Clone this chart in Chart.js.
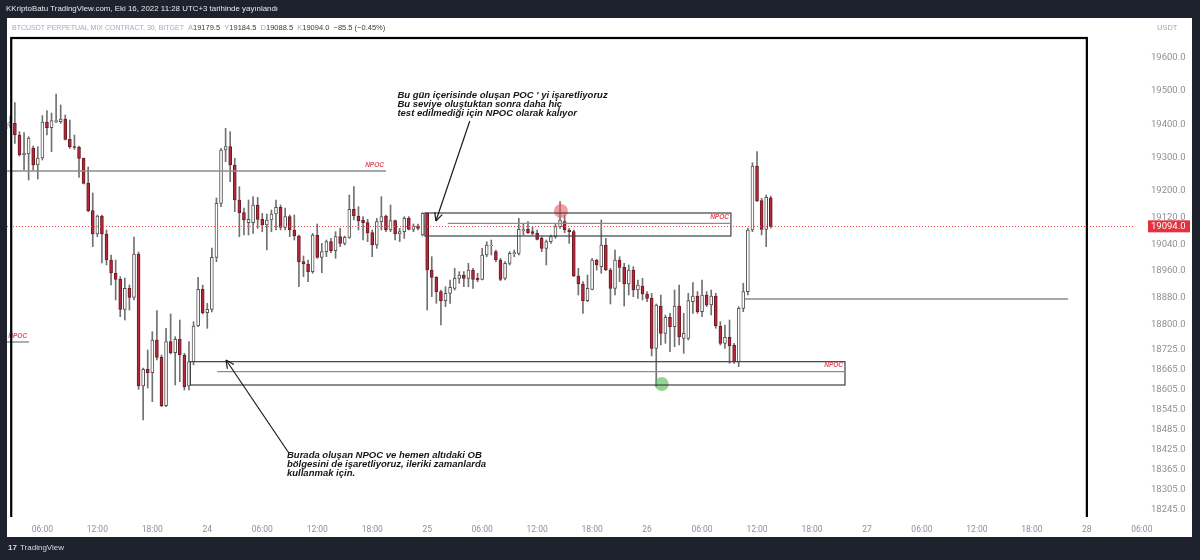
<!DOCTYPE html>
<html>
<head>
<meta charset="utf-8">
<title>BTCUSDT 30 - NPOC</title>
<script src="https://cdn.jsdelivr.net/npm/chart.js"></script>
<style>
  html, body { margin: 0; padding: 0; background: #1e222d; }
  #wrap { width: 1200px; height: 560px; position: relative; }
</style>
</head>
<body>
<div id="wrap"><canvas id="btcChart"></canvas></div>
<script>
// 30 minute candles, x = candle index counted in half hours from Oct 23 00:00
var firstCandle = 4;

var opens = [
  19386, 19395, 19403, 19368, 19308, 19311, 19329, 19278, 19299, 19407, 19390, 19408,
  19408, 19416, 19355, 19333, 19331, 19298, 19223, 19141, 19071, 19125, 19071, 18993,
  18953, 18935, 18845, 18908, 18881, 19011, 18615, 18665, 18655, 18753, 18701, 18556,
  18748, 18715, 18755, 18708, 18615, 18688, 18795, 18905, 18835, 18845, 19001, 19163,
  19323, 19333, 19278, 19173, 19135, 19105, 19105, 19158, 19115, 19098, 19113, 19131,
  19151, 19091, 19123, 19083, 19065, 18988, 18981, 18958, 19068, 19001, 19018, 19048,
  19021, 19063, 19043, 19061, 19145, 19125, 19113, 19105, 19075, 19038, 19108, 19125,
  19083, 19111, 19071, 19078, 19118, 19085, 19095, 19068, 19133, 18963, 18941, 18898,
  18871, 18893, 18908, 18938, 18948, 18938, 18963, 18938, 18935, 19008, 19036, 19018,
  18993, 18938, 18983, 19011, 19013, 19081, 19085, 19078, 19073, 19058, 19028, 19048,
  19063, 19093, 19108, 19083, 19078, 18945, 18921, 18871, 18905, 18993, 18973, 19038,
  18963, 18908, 18993, 18971, 18921, 18963, 18903, 18915, 18891, 18878, 18728, 18855,
  18773, 18821, 18793, 18855, 18758, 18758, 18868, 18885, 18838, 18888, 18858, 18885,
  18795, 18743, 18761, 18738, 18688, 18848, 18898, 19083, 19275, 19171, 19085, 19179.5
];
var highs = [
  19419, 19425, 19465, 19378, 19375, 19363, 19335, 19333, 19426, 19441, 19434, 19491,
  19458, 19428, 19413, 19368, 19335, 19299, 19272, 19194, 19128, 19128, 19083, 19008,
  18993, 18943, 18939, 18918, 19062, 19017, 18669, 18723, 18778, 18841, 18708, 18788,
  18831, 18763, 18813, 18713, 18748, 18808, 18941, 18918, 18863, 19029, 19179, 19328,
  19388, 19378, 19298, 19213, 19149, 19173, 19183, 19181, 19133, 19131, 19143, 19173,
  19158, 19149, 19128, 19128, 19068, 19005, 18993, 19073, 19101, 19043, 19053, 19058,
  19078, 19088, 19065, 19188, 19213, 19153, 19123, 19115, 19083, 19118, 19183, 19128,
  19158, 19113, 19088, 19123, 19123, 19101, 19101, 19135, 19135, 19003, 18943, 18903,
  18913, 18933, 18968, 18958, 18958, 18983, 18968, 18953, 19028, 19048, 19053, 19023,
  18998, 18988, 19018, 19023, 19118, 19103, 19108, 19091, 19083, 19063, 19053, 19068,
  19103, 19168, 19128, 19088, 19083, 18968, 18928, 18948, 18998, 18995, 19113, 19058,
  18968, 19023, 19003, 18983, 18978, 18973, 18933, 18938, 18898, 18893, 18861, 18888,
  18828, 18833, 18903, 18918, 18833, 18893, 18925, 18898, 18933, 18898, 18903, 18893,
  18808, 18798, 18813, 18743, 18853, 18923, 19088, 19285, 19318, 19178, 19188, 19184.5
];
var lows = [
  19380, 19389, 19343, 19305, 19263, 19233, 19263, 19236, 19293, 19368, 19318, 19405,
  19403, 19353, 19328, 19325, 19241, 19221, 19138, 19033, 19063, 18984, 18978, 18918,
  18873, 18823, 18813, 18843, 18873, 18605, 18513, 18609, 18568, 18693, 18553, 18553,
  18711, 18618, 18628, 18603, 18603, 18678, 18793, 18831, 18788, 18837, 18988, 19153,
  19288, 19228, 19138, 19063, 19068, 19068, 19073, 19088, 19078, 19023, 19078, 19083,
  19083, 19083, 19063, 19053, 18913, 18943, 18928, 18953, 18998, 18955, 19003, 19015,
  18998, 19033, 19038, 19058, 19113, 19083, 19053, 19048, 19003, 19028, 19083, 19078,
  19078, 19053, 19048, 19058, 19083, 19078, 19083, 19065, 18843, 18883, 18863, 18798,
  18853, 18863, 18903, 18923, 18913, 18913, 18908, 18928, 18933, 19003, 19008, 18988,
  18931, 18933, 18978, 19003, 19008, 19068, 19073, 19068, 19053, 19018, 18978, 19043,
  19058, 19088, 19075, 19043, 18943, 18888, 18833, 18868, 18903, 18963, 18953, 18961,
  18861, 18888, 18928, 18855, 18888, 18883, 18878, 18873, 18868, 18705, 18613, 18738,
  18743, 18718, 18733, 18738, 18713, 18753, 18833, 18833, 18823, 18853, 18828, 18788,
  18738, 18728, 18683, 18683, 18673, 18838, 18888, 19078, 19168, 19068, 19033, 19088.5
];
var closes = [
  19404, 19407, 19368, 19308, 19314, 19359, 19278, 19299, 19407, 19390, 19411, 19411,
  19416, 19355, 19333, 19331, 19298, 19223, 19141, 19071, 19125, 19071, 18993, 18954,
  18935, 18845, 18908, 18881, 19011, 18615, 18665, 18655, 18753, 18701, 18556, 18748,
  18715, 18755, 18708, 18613, 18688, 18795, 18905, 18835, 18845, 19001, 19163, 19323,
  19333, 19278, 19173, 19135, 19113, 19115, 19158, 19115, 19098, 19113, 19131, 19151,
  19091, 19123, 19083, 19065, 18988, 18981, 18958, 19068, 19001, 19018, 19048, 19021,
  19063, 19043, 19061, 19145, 19125, 19110, 19105, 19075, 19038, 19108, 19123, 19083,
  19111, 19071, 19078, 19118, 19085, 19095, 19088, 19133, 18963, 18941, 18898, 18871,
  18893, 18911, 18938, 18948, 18938, 18963, 18935, 18933, 19008, 19038, 19038, 18993,
  18935, 18983, 19013, 19015, 19085, 19084, 19075, 19073, 19055, 19028, 19048, 19063,
  19093, 19113, 19083, 19078, 18945, 18921, 18871, 18908, 18993, 18978, 19038, 18963,
  18908, 18993, 18971, 18921, 18963, 18903, 18918, 18891, 18878, 18728, 18858, 18773,
  18821, 18793, 18855, 18763, 18773, 18871, 18885, 18838, 18888, 18858, 18885, 18795,
  18743, 18761, 18735, 18688, 18848, 18898, 19083, 19275, 19171, 19085, 19181, 19094
];

var timeTicks = [12, 24, 36, 48, 60, 72, 84, 96, 108, 120, 132, 144, 156, 168, 180, 192, 204, 216, 228, 240, 252];
var timeLabels = ['06:00', '12:00', '18:00', '24', '06:00', '12:00', '18:00', '25', '06:00', '12:00', '18:00',
  '26', '06:00', '12:00', '18:00', '27', '06:00', '12:00', '18:00', '28', '06:00'];
var priceTicks = [19600, 19500, 19400, 19300, 19200, 19120, 19040, 18960, 18880, 18800, 18725,
  18665, 18605, 18545, 18485, 18425, 18365, 18305, 18245];
var lastPrice = 19094.0;

// drawings: [from index, to index, price, show NPOC label]
var levelLines = [
  [4.3, 87, 19260, true],
  [4.3, 9.1, 18747, true],
  [100.5, 162.3, 19103, true],
  [50.2, 187.2, 18658, true],
  [165.4, 235.9, 18876, false]
];
// boxes: [from index, to index, top price, bottom price]
var boxes = [
  [95.5, 162.3, 19134, 19065],
  [44.3, 187.2, 18688, 18618]
];
// arrows: [index, price] of tail and head
var arrows = [
  [105.3, 19410, 97.9, 19110],
  [65.8, 18414, 52.1, 18693]
];
var noteTop = ["Bu gün içerisinde oluşan POC ' yi işaretliyoruz",
  'Bu seviye oluştuktan sonra daha hiç',
  'test edilmediği için NPOC olarak kalıyor'];
var noteBottom = ['Burada oluşan NPOC ve hemen altıdaki OB',
  'bölgesini de işaretliyoruz, ileriki zamanlarda',
  'kullanmak için.'];
var markers = [{ x: 125.2, y: 19140 }, { x: 147.2, y: 18621 }];
var frame = [5.2, 240, 19659, 18000];

var candleX = opens.map(function (o, i) { return firstCandle + i; });
var bodies = candleX.map(function (x, i) { return { x: x, y: [opens[i], closes[i]] }; });
var wicks = candleX.map(function (x, i) { return { x: x, y: [lows[i], highs[i]] }; });
var isUp = closes.map(function (c, i) { return c >= opens[i]; });

var drawings = {
  id: 'drawings',
  beforeDraw: function (chart) {
    var ctx = chart.ctx;
    ctx.save();
    ctx.fillStyle = '#1e222d';
    ctx.fillRect(0, 0, chart.width, chart.height);
    ctx.fillStyle = '#ffffff';
    ctx.fillRect(7, 18, 1185, 519);
    ctx.restore();
  },
  afterDatasetsDraw: function (chart) {
    var ctx = chart.ctx, a = chart.chartArea;
    var sx = chart.scales.x, sy = chart.scales.y;
    function X(v) { return sx.getPixelForValue(v); }
    function Y(v) { return sy.getPixelForValue(v); }
    function seg(x1, y1, x2, y2) { ctx.beginPath(); ctx.moveTo(x1, y1); ctx.lineTo(x2, y2); ctx.stroke(); }

    ctx.save();
    ctx.beginPath();
    ctx.rect(a.left, a.top, a.right - a.left, a.bottom - a.top);
    ctx.clip();

    // last price line
    var yl = Math.round(Y(lastPrice)) + 0.5;
    ctx.strokeStyle = '#e8505b';
    ctx.lineWidth = 1;
    ctx.setLineDash([1, 2]);
    seg(a.left, yl, a.right, yl);
    ctx.setLineDash([]);

    // boxes
    ctx.strokeStyle = '#404040';
    ctx.lineWidth = 1.2;
    boxes.forEach(function (b) {
      ctx.strokeRect(X(b[0]), Y(b[2]), X(b[1]) - X(b[0]), Y(b[3]) - Y(b[2]));
    });

    // level lines + NPOC labels
    ctx.font = 'italic bold 6.5px "Liberation Sans"';
    ctx.textAlign = 'right';
    ctx.textBaseline = 'bottom';
    levelLines.forEach(function (l) {
      ctx.strokeStyle = '#8c8c8c';
      ctx.lineWidth = 1.4;
      seg(X(l[0]), Y(l[2]), X(l[1]), Y(l[2]));
      if (l[3]) {
        ctx.fillStyle = '#e4505e';
        ctx.fillText('NPOC', X(l[1]) - 2, Y(l[2]) - 3);
      }
    });

    // black frame
    ctx.strokeStyle = '#000000';
    ctx.lineWidth = 2.2;
    ctx.strokeRect(X(frame[0]), Y(frame[2]), X(frame[1]) - X(frame[0]), Y(frame[3]) - Y(frame[2]));

    // arrows
    ctx.strokeStyle = '#1c1c1c';
    ctx.lineWidth = 1.2;
    arrows.forEach(function (r) {
      var x1 = X(r[0]), y1 = Y(r[1]), x2 = X(r[2]), y2 = Y(r[3]);
      seg(x1, y1, x2, y2);
      var ang = Math.atan2(y2 - y1, x2 - x1);
      seg(x2, y2, x2 - 9 * Math.cos(ang - 0.45), y2 - 9 * Math.sin(ang - 0.45));
      seg(x2, y2, x2 - 9 * Math.cos(ang + 0.45), y2 - 9 * Math.sin(ang + 0.45));
    });

    // notes
    ctx.font = 'italic bold 9.5px "Liberation Sans"';
    ctx.fillStyle = '#161616';
    ctx.textAlign = 'left';
    ctx.textBaseline = 'middle';
    noteTop.forEach(function (t, i) { ctx.fillText(t, X(89.5), Y(19486) + i * 9); });
    noteBottom.forEach(function (t, i) { ctx.fillText(t, X(65.4), Y(18408) + i * 9); });

    ctx.restore();
  },
  afterDraw: function (chart) {
    var ctx = chart.ctx, sy = chart.scales.y;
    ctx.save();
    ctx.textBaseline = 'middle';
    ctx.textAlign = 'left';

    // publish line
    ctx.font = '7.9px "Liberation Sans"';
    ctx.fillStyle = '#e6e8ee';
    ctx.fillText('KKriptoBatu TradingView.com, Eki 16, 2022 11:28 UTC+3 tarihinde yayınlandı', 6, 9);

    // symbol legend
    ctx.font = '7px "Liberation Sans"';
    ctx.fillStyle = '#a7aab2';
    ctx.fillText('BTCUSDT PERPETUAL MIX CONTRACT, 30, BITGET', 12, 28);
    var parts = [
      ['A', '#a7aab2'], ['19179.5  ', '#3a3a3a'],
      ['Y', '#a7aab2'], ['19184.5  ', '#3a3a3a'],
      ['D', '#a7aab2'], ['19088.5  ', '#3a3a3a'],
      ['K', '#a7aab2'], ['19094.0  ', '#3a3a3a'],
      ['\u221285.5 (\u22120.45%)', '#3a3a3a']
    ];
    ctx.font = '7.5px "Liberation Sans"';
    var x = 188;
    parts.forEach(function (p) {
      ctx.fillStyle = p[1];
      ctx.fillText(p[0], x, 28);
      x += ctx.measureText(p[0]).width;
    });

    ctx.fillStyle = '#a0a3ab';
    ctx.fillText('USDT', 1157, 28);

    // last price tag
    var yt = sy.getPixelForValue(lastPrice);
    ctx.fillStyle = '#e0323f';
    ctx.fillRect(1148, yt - 6, 42, 12);
    ctx.fillStyle = '#ffffff';
    ctx.font = '9.5px Roboto';
    ctx.fillText('19094.0', 1151, yt + 0.5);

    // footer logo
    ctx.fillStyle = '#d8dae0';
    ctx.font = 'bold 8px "Liberation Sans"';
    ctx.fillText('17', 8, 548);
    ctx.font = '8px "Liberation Sans"';
    ctx.fillText('TradingView', 20, 548);
    ctx.restore();
  }
};

var ctx = document.getElementById('btcChart').getContext('2d');
var btcChart = new Chart(ctx, {
  type: 'bar',
  data: {
    datasets: [
      {
        type: 'scatter',
        data: markers,
        pointRadius: 7,
        pointBorderWidth: 0,
        pointBackgroundColor: ['rgba(236, 90, 100, 0.6)', 'rgba(90, 190, 90, 0.65)']
      },
      {
        data: bodies,
        backgroundColor: isUp.map(function (u) { return u ? '#ffffff' : '#b3283a'; }),
        borderColor: isUp.map(function (u) { return u ? '#555555' : '#6e1a24'; }),
        borderWidth: 1,
        borderSkipped: false,
        barThickness: 3,
        grouped: false
      },
      {
        data: wicks,
        backgroundColor: '#717171',
        barThickness: 1,
        grouped: false
      }
    ]
  },
  options: {
    responsive: true,
    maintainAspectRatio: false,
    animation: false,
    events: [],
    layout: { padding: { left: 7, right: 8, top: 18, bottom: 23 } },
    plugins: {
      legend: { display: false },
      tooltip: { enabled: false }
    },
    scales: {
      x: {
        type: 'linear',
        offset: false,
        min: 4.28,
        max: 250.07,
        grid: { display: false, drawTicks: false },
        border: { display: false },
        afterBuildTicks: function (scale) {
          scale.ticks = timeTicks.map(function (v) { return { value: v }; });
        },
        afterFit: function (scale) {
          scale.height = 20;
          scale.paddingLeft = 0;
          scale.paddingRight = 0;
        },
        ticks: {
          autoSkip: false,
          maxRotation: 0,
          padding: 8,
          color: '#8f9097',
          font: { family: 'Roboto', size: 8.5 },
          callback: function (value) { return timeLabels[timeTicks.indexOf(value)]; }
        }
      },
      y: {
        position: 'right',
        min: 18222,
        max: 19719,
        grid: { display: false, drawTicks: false },
        border: { display: false },
        afterBuildTicks: function (scale) {
          scale.ticks = priceTicks.map(function (v) { return { value: v }; });
        },
        afterFit: function (scale) {
          scale.width = 59;
          // keep the plot area flush with the white panel top
          scale.paddingTop = 0;
          scale.paddingBottom = 0;
        },
        ticks: {
          autoSkip: false,
          padding: 18,
          color: '#8f9097',
          font: { family: 'Roboto', size: 9.5 },
          callback: function (value) { return value.toFixed(1); }
        }
      }
    }
  },
  plugins: [drawings]
});
</script>
</body>
</html>
